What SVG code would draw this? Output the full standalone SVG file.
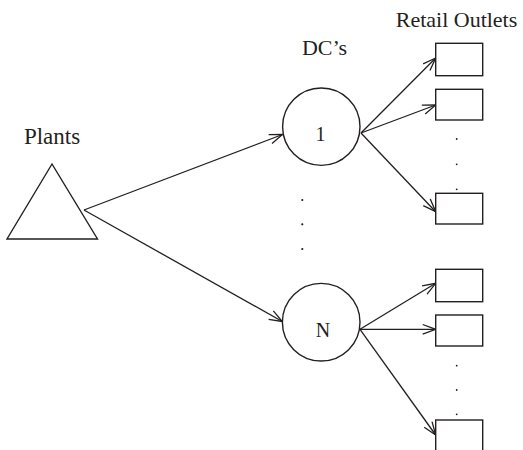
<svg xmlns="http://www.w3.org/2000/svg" width="523" height="450" viewBox="0 0 523 450">
<style>
  .shape { fill: #fff; stroke: #231f20; stroke-width: 1.4; }
  .edge { fill: none; stroke: #231f20; stroke-width: 1.3; }
  .lbl { font-family: "Liberation Serif", "Times New Roman", serif; fill: #231f20; }
  .dot { fill: #231f20; }
</style>
<defs>
  <marker id="arr" markerUnits="userSpaceOnUse" viewBox="-14 -7 16 14" refX="0" refY="0" markerWidth="16" markerHeight="14" orient="auto">
    <path d="M-13,-4.8 L0,0 L-13,4.8" fill="none" stroke="#231f20" stroke-width="1.3"/>
  </marker>
</defs>
<rect width="523" height="450" fill="#fff"/>
<g id="connectors">
  <line class="edge" x1="84" y1="210" x2="282.5" y2="134.5" marker-end="url(#arr)"/>
  <line class="edge" x1="84" y1="210" x2="282.3" y2="321.5" marker-end="url(#arr)"/>
  <line class="edge" x1="361" y1="133" x2="435.7" y2="58" marker-end="url(#arr)"/>
  <line class="edge" x1="361" y1="133" x2="435.7" y2="105" marker-end="url(#arr)"/>
  <line class="edge" x1="361" y1="133" x2="435.7" y2="211.7" marker-end="url(#arr)"/>
  <line class="edge" x1="360" y1="329.3" x2="435.7" y2="283.3" marker-end="url(#arr)"/>
  <line class="edge" x1="360" y1="329.3" x2="435.7" y2="329.3" marker-end="url(#arr)"/>
  <line class="edge" x1="360" y1="329.3" x2="435.7" y2="435" marker-end="url(#arr)"/>
</g>
<g id="plants">
  <text class="lbl" x="52" y="144" font-size="23" text-anchor="middle">Plants</text>
  <polygon class="shape" points="52,164 7,239 97.5,239"/>
</g>
<g id="dcs-label">
  <text class="lbl" x="324.5" y="55" font-size="22" text-anchor="middle">DC’s</text>
</g>
<g id="dc1">
  <circle class="shape" cx="321.3" cy="126.7" r="38.7"/>
  <text class="lbl" x="320.5" y="141" font-size="20" text-anchor="middle">1</text>
</g>
<g id="dcN">
  <circle class="shape" cx="321.2" cy="322.2" r="38.8"/>
  <text class="lbl" x="323" y="336.7" font-size="20" text-anchor="middle">N</text>
</g>
<g id="dc-dots">
  <circle class="dot" cx="302.3" cy="200" r="1.1"/>
  <circle class="dot" cx="302.3" cy="224.3" r="1.1"/>
  <circle class="dot" cx="302.3" cy="249" r="1.1"/>
</g>
<g id="retail-label">
  <text class="lbl" x="456.5" y="26.5" font-size="22" text-anchor="middle">Retail Outlets</text>
</g>
<g id="outlet-1a"><rect class="shape" x="435.7" y="43.3" width="47" height="32.4"/></g>
<g id="outlet-1b"><rect class="shape" x="435.7" y="89.3" width="47" height="30.7"/></g>
<g id="outlet-1c"><rect class="shape" x="435.7" y="193.3" width="47" height="30.7"/></g>
<g id="outlet-dots-1">
  <circle class="dot" cx="456.7" cy="139" r="0.9"/>
  <circle class="dot" cx="456.7" cy="164.3" r="0.9"/>
  <circle class="dot" cx="456.7" cy="189.3" r="0.9"/>
</g>
<g id="outlet-Na"><rect class="shape" x="435.7" y="269.3" width="47" height="32.4"/></g>
<g id="outlet-Nb"><rect class="shape" x="435.7" y="315" width="47" height="31"/></g>
<g id="outlet-Nc"><rect class="shape" x="435.7" y="420" width="47" height="40"/></g>
<g id="outlet-dots-N">
  <circle class="dot" cx="456.7" cy="365.7" r="0.9"/>
  <circle class="dot" cx="456.7" cy="390" r="0.9"/>
  <circle class="dot" cx="456.7" cy="414.3" r="0.9"/>
</g>
</svg>
